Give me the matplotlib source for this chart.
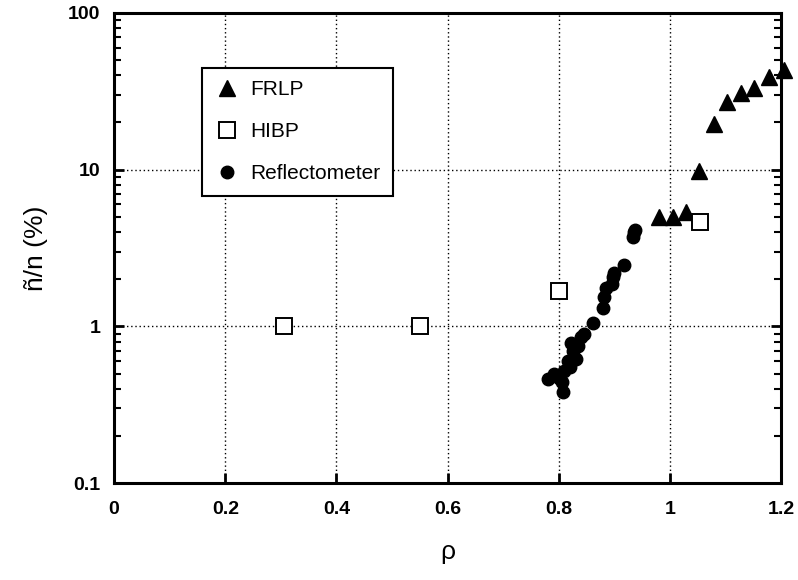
import numpy as np
import matplotlib
matplotlib.use("Agg")
import matplotlib.pyplot as plt
from matplotlib.ticker import LogLocator, NullFormatter, FixedLocator, FixedFormatter

plt.rcParams['font.family'] = ['Liberation Sans', 'DejaVu Sans']

# FRLP (triangles)
frlp_rho = [0.980, 1.005, 1.029, 1.052, 1.079, 1.103, 1.128, 1.151, 1.178, 1.205]
frlp_val = [5.0, 5.0, 5.4, 9.8, 19.5, 27.0, 31.0, 33.0, 39.0, 43.0]

# HIBP (open squares)
hibp_rho = [0.305, 0.551, 0.800, 1.054]
hibp_val = [1.0, 1.0, 1.69, 4.6]

# Reflectometer (dots)
refl_rho = [0.780, 0.791, 0.800, 0.807, 0.805, 0.810, 0.816, 0.820, 0.825, 0.822,
            0.830, 0.835, 0.840, 0.845, 0.861, 0.880, 0.882, 0.884, 0.895, 0.898,
            0.900, 0.917, 0.934, 0.936, 0.937]
refl_val = [0.46, 0.50, 0.47, 0.38, 0.44, 0.52, 0.60, 0.55, 0.70, 0.78,
            0.62, 0.75, 0.85, 0.90, 1.05, 1.30, 1.55, 1.75, 1.85, 2.05,
            2.20, 2.45, 3.70, 4.00, 4.10]

fig = plt.figure(figsize=(7.98, 5.80), dpi=100)
ax = fig.add_axes([0.143, 0.167, 0.836, 0.811])

ax.plot(frlp_rho, frlp_val, '^', color='black', markersize=11, linestyle='none',
        label='FRLP', clip_on=False, zorder=5)
ax.plot(hibp_rho, hibp_val, 's', markerfacecolor='white', markeredgecolor='black',
        markeredgewidth=1.4, markersize=11, linestyle='none', label='HIBP', zorder=5)
ax.plot(refl_rho, refl_val, 'o', color='black', markersize=9, linestyle='none',
        label='Reflectometer', zorder=5)

ax.set_yscale('log')
ax.set_xlim(0, 1.2)
ax.set_ylim(0.1, 100)

ax.xaxis.set_major_locator(FixedLocator([0, 0.2, 0.4, 0.6, 0.8, 1.0, 1.2]))
ax.xaxis.set_major_formatter(FixedFormatter(['0', '0.2', '0.4', '0.6', '0.8', '1', '1.2']))
ax.yaxis.set_major_locator(FixedLocator([0.1, 1, 10, 100]))
ax.yaxis.set_major_formatter(FixedFormatter(['0.1', '1', '10', '100']))
ax.yaxis.set_minor_locator(LogLocator(base=10, subs=np.arange(2, 10)))
ax.yaxis.set_minor_formatter(NullFormatter())

ax.tick_params(axis='both', which='major', direction='in', length=7, width=2,
               labelsize=14, pad=10)
ax.tick_params(axis='x', which='major', pad=13)
ax.tick_params(axis='y', which='both', right=True, direction='in')
ax.tick_params(axis='y', which='minor', length=5, width=1.5)
for lbl in ax.get_xticklabels() + ax.get_yticklabels():
    lbl.set_fontweight('bold')

ax.grid(True, which='major', linestyle=(0, (1, 2)), color='black', linewidth=1.0)
for s in ax.spines.values():
    s.set_linewidth(2.2)

ax.set_xlabel('ρ', fontsize=19, labelpad=16)
ax.set_ylabel('ñ/n (%)', fontsize=19, labelpad=14)

leg = ax.legend(loc='upper left', bbox_to_anchor=(0.132, 0.883), borderaxespad=0,
                fontsize=15, labelspacing=1.1, handletextpad=0.5, handlelength=1.2,
                borderpad=0.6, fancybox=False, framealpha=1, edgecolor='black')
leg.get_frame().set_linewidth(1.5)

fig.savefig('out.png', dpi=100)
